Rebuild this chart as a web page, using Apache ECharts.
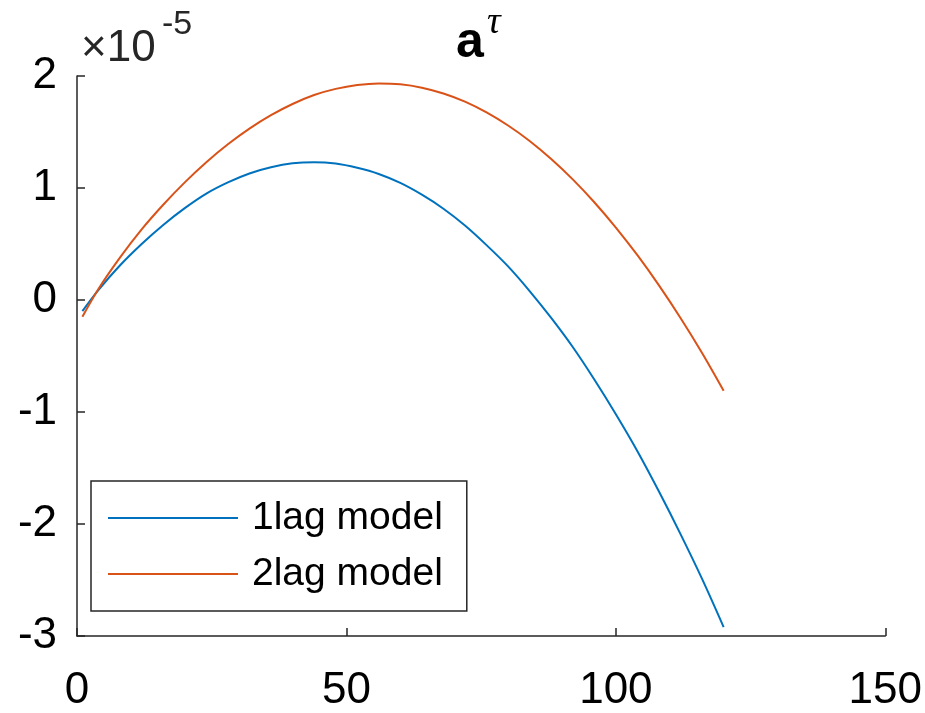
<!DOCTYPE html>
<html>
<head>
<meta charset="utf-8">
<script src="https://cdn.jsdelivr.net/npm/echarts@6/dist/echarts.min.js"></script>
<style>
  html, body { margin: 0; padding: 0; background: #fff; }
  #chart { width: 925px; height: 713px; }
</style>
</head>
<body>
<div id="chart"></div>
<script>
// x positions (lag index)
const xValues = [1, 4, 8, 12, 16, 20, 24, 28, 32, 36, 40, 44, 48, 52, 56, 60, 64, 68, 72, 76, 80, 84, 88, 92, 96, 100, 104, 108, 112, 116, 120];
// values, in units of 1e-5
const lag1Values = [-0.10, 0.09, 0.31, 0.50, 0.67, 0.82, 0.95, 1.05, 1.13, 1.185, 1.22, 1.23, 1.218, 1.18, 1.125, 1.045, 0.94, 0.815, 0.665, 0.49, 0.30, 0.08, -0.16, -0.42, -0.71, -1.02, -1.35, -1.71, -2.09, -2.49, -2.92];
const lag2Values = [-0.15, 0.10, 0.38, 0.63, 0.85, 1.05, 1.23, 1.39, 1.53, 1.65, 1.75, 1.83, 1.885, 1.92, 1.934, 1.926, 1.896, 1.844, 1.771, 1.675, 1.558, 1.42, 1.259, 1.077, 0.873, 0.647, 0.40, 0.131, -0.16, -0.473, -0.81];
const seriesNames = ['1lag model', '2lag model'];
const xTicks = [0, 50, 100, 150];
const yTicks = [-3, -2, -1, 0, 1, 2];

const FONT = '"Liberation Sans", Arial, Helvetica, sans-serif';
const AXIS = '#262626';

const chart = echarts.init(document.getElementById('chart'), null, { renderer: 'canvas' });
const pairs = (ys) => xValues.map((x, i) => [x, ys[i]]);

chart.setOption({
  animation: false,
  backgroundColor: '#ffffff',
  grid: { left: 77, right: 38, top: 76, bottom: 75, containLabel: false },
  xAxis: {
    type: 'value',
    min: xTicks[0], max: xTicks[xTicks.length - 1], interval: 50,
    axisLine: { show: true, onZero: false, lineStyle: { color: AXIS, width: 1.5 } },
    axisTick: { show: true, inside: true, length: 8, lineStyle: { color: AXIS, width: 1.5 } },
    axisLabel: { color: '#000', fontFamily: FONT, fontSize: 44, margin: 33 },
    splitLine: { show: false }
  },
  yAxis: {
    type: 'value',
    min: yTicks[0], max: yTicks[yTicks.length - 1], interval: 1,
    axisLine: { show: true, onZero: false, lineStyle: { color: AXIS, width: 1.5 } },
    axisTick: { show: true, inside: true, length: 8, lineStyle: { color: AXIS, width: 1.5 } },
    axisLabel: { color: '#000', fontFamily: FONT, fontSize: 44, margin: 20,
      formatter: (v) => String(v) },
    splitLine: { show: false }
  },
  legend: {
    orient: 'vertical',
    left: 91, top: 481,
    padding: [15, 24, 15, 17],
    icon: 'rect',
    itemWidth: 130, itemHeight: 2, itemGap: 12,
    borderColor: AXIS, borderWidth: 1.5, backgroundColor: '#fff',
    textStyle: { color: '#000', fontFamily: FONT, fontSize: 39, lineHeight: 44, padding: [0, 0, 0, 9] },
    data: seriesNames
  },
  graphic: [
    { type: 'text', left: 81, top: 27, style: { text: '×10', font: '44px ' + FONT, fill: '#262626' } },
    { type: 'text', left: 162, top: 8, style: { text: '-5', font: '34px ' + FONT, fill: '#262626' } },
    { type: 'text', left: 456, top: 18, style: { text: 'a', font: 'bold 50px ' + FONT, fill: '#000' } },
    { type: 'text', left: 487, top: 4, style: { text: 'τ', font: 'italic 38px "Liberation Serif", serif', fill: '#000' } }
  ],
  series: [
    { name: seriesNames[0], type: 'line', data: pairs(lag1Values), smooth: 0.3, symbol: 'none',
      lineStyle: { color: '#0072BD', width: 2 }, itemStyle: { color: '#0072BD' } },
    { name: seriesNames[1], type: 'line', data: pairs(lag2Values), smooth: 0.3, symbol: 'none',
      lineStyle: { color: '#D95319', width: 2 }, itemStyle: { color: '#D95319' } }
  ]
});
</script>
</body>
</html>
